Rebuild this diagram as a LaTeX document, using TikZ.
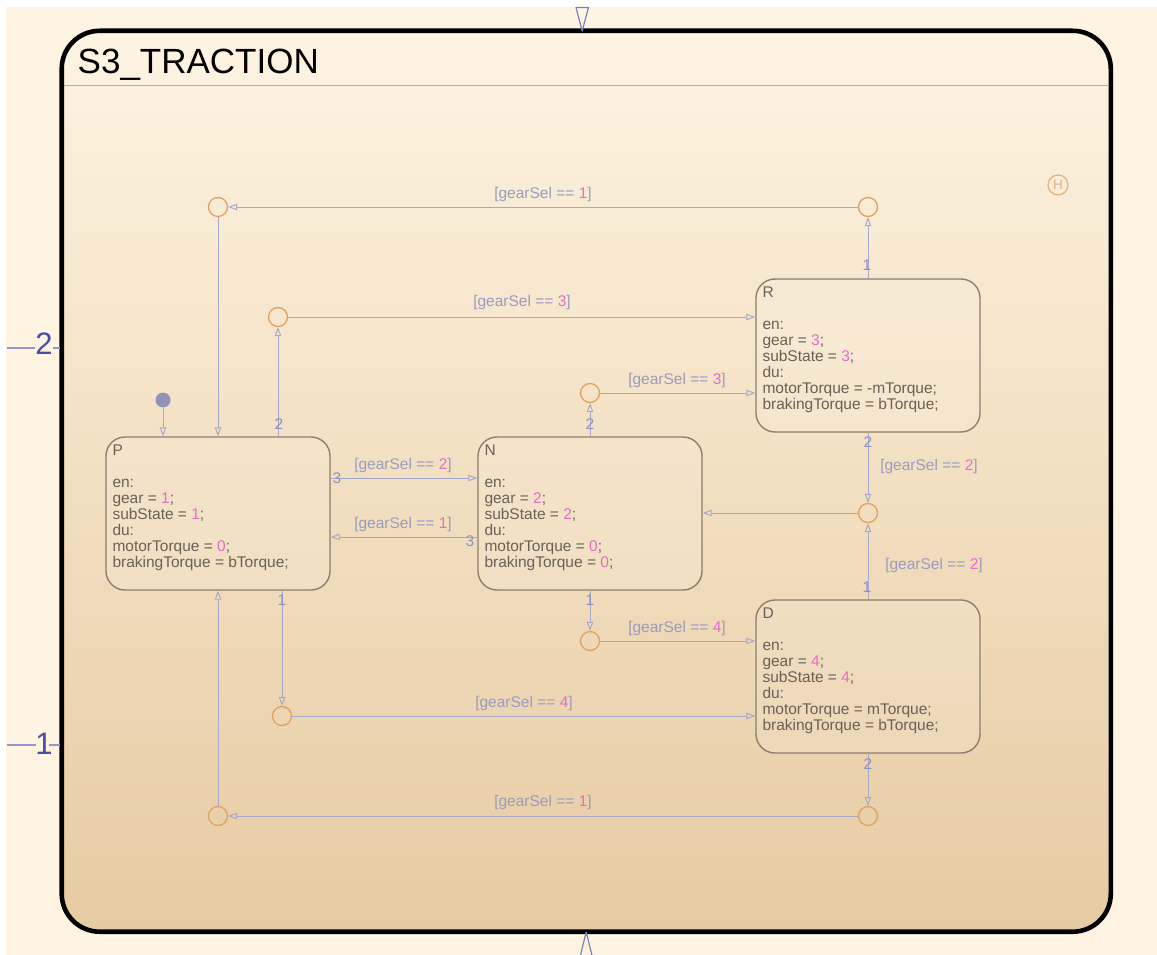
\documentclass[tikz,border=0pt]{standalone}
\usepackage{fontspec}
\setmainfont{Liberation Sans}
\usetikzlibrary{arrows.meta,calc}

\definecolor{pagecream}{HTML}{FEF4E1}
\definecolor{gtop}{HTML}{FEF4E2}
\definecolor{gbot}{HTML}{E6CBA2}
\definecolor{sepcol}{HTML}{BBAA98}
\definecolor{stateline}{HTML}{8C7F6E}
\definecolor{stxt}{HTML}{6A6156}
\definecolor{pinkc}{HTML}{E66CC8}
\definecolor{trcol}{HTML}{A6A7CC}
\definecolor{lblcol}{HTML}{9A9CBE}
\definecolor{tnumcol}{HTML}{8E90C2}
\definecolor{juncol}{HTML}{E3A05E}
\definecolor{histcol}{HTML}{E8AE78}
\definecolor{dotcol}{HTML}{9294B6}
\definecolor{portcol}{HTML}{4A4FA6}
\definecolor{portline}{HTML}{9496CA}
\definecolor{entrycol}{HTML}{7C80BC}

\newcommand\lblfont{\fontsize{15.5}{16}\selectfont}
\newcommand\pk[1]{\textcolor{pinkc}{#1}}

\tikzset{
  state/.style={draw=stateline, line width=1.4pt, rounded corners=19pt,
    minimum width=224pt, minimum height=153pt, inner sep=0pt,
    fill=white, fill opacity=0.12, draw opacity=1},
  junc/.style={circle, draw=juncol, line width=1.3pt, minimum size=19pt, inner sep=0pt},
  tr/.style={draw=trcol, line width=0.95pt, -{Triangle[open, length=9pt, width=6.5pt]}},
  glabel/.style={font=\lblfont, text=lblcol, inner sep=0pt},
  tnum/.style={font=\lblfont, text=tnumcol, inner sep=0pt},
  stext/.style={font=\lblfont, text=stxt, anchor=base west, inner sep=0pt},
  portnum/.style={font=\fontsize{31}{31}\selectfont, text=portcol, anchor=base, inner sep=0pt},
}

\begin{document}
\begin{tikzpicture}[x=1pt,y=-1pt]
\useasboundingbox (0,0) rectangle (1157,955);
\fill[white] (0,0) rectangle (1157,955);
\fill[pagecream] (6,7) rectangle (1157,955);

% chart frame
\shade[top color=gtop, bottom color=gbot, rounded corners=38pt]
  (61.7,30.8) rectangle (1110.8,931.7);
\draw[black, line width=4.6pt, rounded corners=38pt]
  (61.7,30.8) rectangle (1110.8,931.7);
\node[font=\fontsize{35}{35}\selectfont, anchor=base west, inner sep=0pt] (title)
  at (77.5,73.5) {S3\_TRACTION};
\draw[sepcol, line width=0.9pt] (64,85) -- (1108.5,85);

% entry and exit ports
\draw[entrycol, line width=1.2pt, line join=round] (576,7.5) -- (588.5,7.5) -- (582.2,31) -- cycle;
\draw[entrycol, line width=1.2pt, line join=round] (580,957) -- (586.2,932) -- (592.4,957);
\node[portnum] (port2) at (44,354) {2};
\node[portnum] (port1) at (44,754) {1};
\draw[portline, line width=1.2pt] (7,348) -- (35,348) (53,348) -- (60,348);
\draw[portline, line width=1.2pt] (7,745) -- (36,745) (49,745) -- (60,745);

% history junction
\node[circle, draw=histcol, line width=1.2pt, minimum size=20pt, inner sep=0pt,
  text=histcol, font=\fontsize{13.5}{13.5}\selectfont] (hist) at (1058,185) {H};

% states
\node[state] (P) at (218,513.5) {};
\node[state] (N) at (590,513.5) {};
\node[state] (R) at (868,355.5) {};
\node[state] (D) at (868,676.5) {};

\node[stext] (Ptxt) at ([xshift=7pt,yshift=-19pt]P.north west) {\parbox[t]{210pt}{%
  P\\[16pt]en:\\gear = \pk{1};\\subState = \pk{1};\\du:\\motorTorque = \pk{0};\\brakingTorque = bTorque;}};
\node[stext] (Ntxt) at ([xshift=7pt,yshift=-19pt]N.north west) {\parbox[t]{210pt}{%
  N\\[16pt]en:\\gear = \pk{2};\\subState = \pk{2};\\du:\\motorTorque = \pk{0};\\brakingTorque = \pk{0};}};
\node[stext] (Rtxt) at ([xshift=7pt,yshift=-19pt]R.north west) {\parbox[t]{210pt}{%
  R\\[16pt]en:\\gear = \pk{3};\\subState = \pk{3};\\du:\\motorTorque = -mTorque;\\brakingTorque = bTorque;}};
\node[stext] (Dtxt) at ([xshift=7pt,yshift=-19pt]D.north west) {\parbox[t]{210pt}{%
  D\\[16pt]en:\\gear = \pk{4};\\subState = \pk{4};\\du:\\motorTorque = mTorque;\\brakingTorque = bTorque;}};

% junctions
\node[junc] (J1) at (218,207) {};
\node[junc] (J2) at (868,207) {};
\node[junc] (J3) at (278,317) {};
\node[junc] (J4) at (590,393) {};
\node[junc] (J5) at (868,513) {};
\node[junc] (J6) at (590,641) {};
\node[junc] (J7) at (282,716) {};
\node[junc] (J8) at (218,816) {};
\node[junc] (J9) at (868,816) {};

% default transition
\node[circle, fill=dotcol, minimum size=15pt, inner sep=0pt] (dflt) at (163,400) {};
\draw[tr] (dflt.south) -- (dflt |- P.north);

% transitions
\draw[tr] (R.north) -- (J2.south);
\draw[tr] (J2.west) -- (J1.east);
\draw[tr] (J1.south) -- (P.north);
\draw[tr] (J3 |- P.north) -- (J3.south);
\draw[tr] (J3.east) -- (J3 -| R.west);
\draw[tr] ([yshift=35.5pt]P.east) -- ([yshift=35.5pt]N.west);
\draw[tr] ([yshift=-23.5pt]N.west) -- ([yshift=-23.5pt]P.east);
\draw[tr] (N.north) -- (J4.south);
\draw[tr] (J4.east) -- (J4 -| R.west);
\draw[tr] (R.south) -- (J5.north);
\draw[tr] (J5.west) -- (J5 -| N.east);
\draw[tr] (D.north) -- (J5.south);
\draw[tr] (N.south) -- (J6.north);
\draw[tr] (J6.east) -- (J6 -| D.west);
\draw[tr] (J7 |- P.south) -- (J7.north);
\draw[tr] (J7.east) -- (J7 -| D.west);
\draw[tr] (D.south) -- (J9.north);
\draw[tr] (J9.west) -- (J8.east);
\draw[tr] (J8.north) -- (P.south);

% guard labels
\node[glabel] (g1) at (543,194) {[gearSel == \pk{1}]};
\node[glabel] (g2) at (522,302) {[gearSel == \pk{3}]};
\node[glabel] (g3) at (677,380) {[gearSel == \pk{3}]};
\node[glabel] (g4) at (403,465) {[gearSel == \pk{2}]};
\node[glabel] (g5) at (403,524) {[gearSel == \pk{1}]};
\node[glabel] (g6) at (929,466) {[gearSel == \pk{2}]};
\node[glabel] (g7) at (934,565) {[gearSel == \pk{2}]};
\node[glabel] (g8) at (677,628) {[gearSel == \pk{4}]};
\node[glabel] (g9) at (524,703) {[gearSel == \pk{4}]};
\node[glabel] (g10) at (543,802) {[gearSel == \pk{1}]};

% execution order numbers
\node[tnum] (o1) at (867,265) {1};
\node[tnum] (o2) at (279,424) {2};
\node[tnum] (o3) at (337,478) {3};
\node[tnum] (o4) at (470,541) {3};
\node[tnum] (o5) at (590,424) {2};
\node[tnum] (o6) at (868,442) {2};
\node[tnum] (o7) at (867,587) {1};
\node[tnum] (o8) at (590,600) {1};
\node[tnum] (o9) at (282,600) {1};
\node[tnum] (o10) at (868,764) {2};
\end{tikzpicture}
\end{document}
